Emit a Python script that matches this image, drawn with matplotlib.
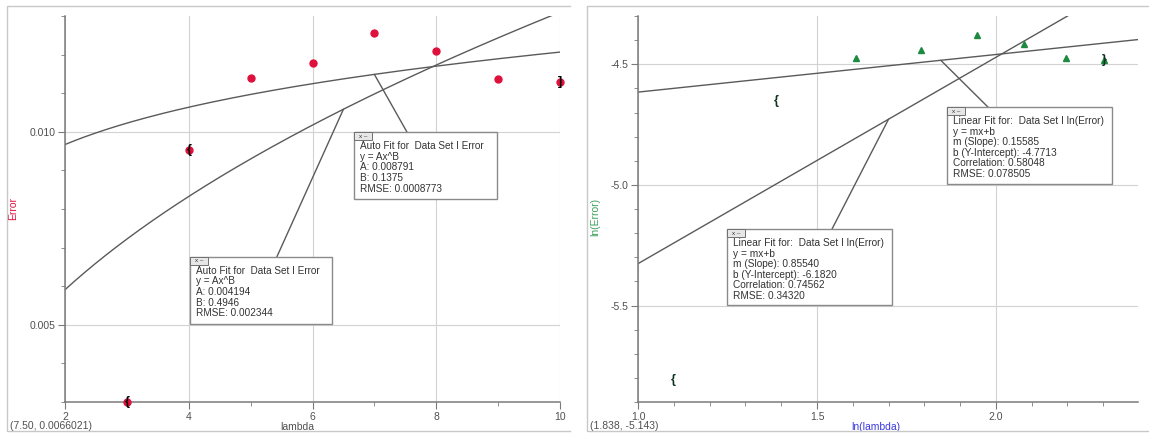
import numpy as np
import matplotlib
matplotlib.use("Agg")
import matplotlib.pyplot as plt
from matplotlib.patches import Rectangle
from matplotlib.lines import Line2D
from matplotlib.ticker import MultipleLocator, FormatStrFormatter

plt.rcParams["font.family"] = ["Liberation Sans", "DejaVu Sans"]
plt.rcParams["axes.unicode_minus"] = False

# ---- values ----
lam = [3, 4, 5, 6, 7, 8, 9, 10]
err = [0.00300, 0.00953, 0.01139, 0.01178, 0.01256, 0.01210, 0.01138, 0.01130]
ln_lam = [1.099, 1.386, 1.609, 1.792, 1.946, 2.079, 2.197, 2.303]
ln_err = [-5.809, -4.653, -4.475, -4.441, -4.377, -4.415, -4.476, -4.483]

# power fits  y = A x^B  (left panel)
fit1 = {"A": 0.008791, "B": 0.1375, "RMSE": 0.0008773}
fit2 = {"A": 0.004194, "B": 0.4946, "RMSE": 0.002344}
# linear fits  y = mx+b  (right panel)
lin1 = {"m": 0.15585, "b": -4.7713, "r": 0.58048, "RMSE": 0.078505}
lin2 = {"m": 0.85540, "b": -6.1820, "r": 0.74562, "RMSE": 0.34320}

left_xticks = [2, 4, 6, 8, 10]
left_yticks = [0.005, 0.010]
right_xticks = [1.0, 1.5, 2.0]
right_yticks = [-5.5, -5.0, -4.5]

RED = "#e0103c"
GREEN = "#1e8a40"
LINE = "#5a5a5a"
GRID = "#d2d2d2"
TXT = "#505050"


def style_axes(ax):
    for s in ("top", "right"):
        ax.spines[s].set_visible(False)
    for s in ("left", "bottom"):
        ax.spines[s].set_color("#7a7a7a"); ax.spines[s].set_linewidth(1.1)
    ax.tick_params(which="both", direction="out", colors="#7a7a7a", labelcolor=TXT,
                   labelsize=7.5, pad=2)
    ax.tick_params(which="major", length=5)
    ax.tick_params(which="minor", length=3)
    ax.grid(which="major", color=GRID, lw=0.8)
    ax.set_axisbelow(True)


def fit_box(ax, x0, y0, w, h, lines, start, target, fs=7.2):
    """annotation box like the Logger Pro 'fit' panel, with leader line to the curve"""
    ax.annotate("", xy=target, xycoords="data", xytext=start, textcoords="axes fraction",
                arrowprops=dict(arrowstyle="-", color=LINE, lw=1.0, shrinkA=0, shrinkB=0))
    ax.add_patch(Rectangle((x0, y0), w, h, transform=ax.transAxes, facecolor="white",
                           edgecolor="#8a8a8a", lw=1.0, zorder=5, clip_on=False))
    pw, ph = ax.bbox.width, ax.bbox.height
    ax.add_patch(Rectangle((x0, y0 + h - 8 / ph), 18 / pw, 8 / ph, transform=ax.transAxes,
                           facecolor="#e6e6e6", edgecolor="#707070", lw=0.7, zorder=6,
                           clip_on=False))
    ax.text(x0 + 9 / pw, y0 + h - 4 / ph, "x –", transform=ax.transAxes, fontsize=4.5,
            ha="center", va="center", color="#333", zorder=7)
    for i, s in enumerate(lines):
        ax.annotate(s, xy=(x0, y0 + h), xycoords="axes fraction",
                    xytext=(6, -14 - i * 10.6), textcoords="offset pixels",
                    fontsize=fs, va="center", ha="left", color="#333", zorder=7)


fig = plt.figure(figsize=(11.49, 4.38), dpi=100)
axL = fig.add_axes([65 / 1149, 36 / 438, 495 / 1149, 386 / 438])
axR = fig.add_axes([638 / 1149, 36 / 438, 500 / 1149, 386 / 438])

# ---- left: Error vs lambda ----
style_axes(axL)
axL.set_xlim(2, 10); axL.set_ylim(0.003, 0.013)
axL.set_xticks(left_xticks); axL.set_yticks(left_yticks)
axL.xaxis.set_minor_locator(MultipleLocator(1))
axL.yaxis.set_minor_locator(MultipleLocator(0.001))
axL.yaxis.set_major_formatter(FormatStrFormatter("%.3f"))
xs = np.linspace(2, 10, 200)
axL.plot(xs, fit1["A"] * xs ** fit1["B"], color=LINE, lw=1.0)
axL.plot(xs, fit2["A"] * xs ** fit2["B"], color=LINE, lw=1.0)
axL.plot(lam, err, "o", color=RED, ms=5, mec=RED, clip_on=False, zorder=4)
for i, b in [(0, "{"), (1, "{"), (7, "]")]:
    axL.text(lam[i], err[i], b, ha="center", va="center", fontsize=9, fontweight="bold",
             color="k", zorder=5, clip_on=False)
axL.set_xlabel("lambda", fontsize=7.5, color=TXT)
axL.xaxis.set_label_coords(0.469, -0.052)
axL.set_ylabel("Error", fontsize=7.5, color=RED)
axL.yaxis.set_label_coords(-0.095, 0.5)

fit_box(axL, 0.584, 0.526, 0.289, 0.173,
        ["Auto Fit for  Data Set I Error", "y = Ax^B", f"A: {fit1['A']}",
         f"B: {fit1['B']}", f"RMSE: {fit1['RMSE']}"],
        (0.691, 0.699), (7.0, fit1["A"] * 7.0 ** fit1["B"]))
fit_box(axL, 0.2525, 0.202, 0.287, 0.174,
        ["Auto Fit for  Data Set I Error", "y = Ax^B", f"A: {fit2['A']}",
         f"B: {fit2['B']}", f"RMSE: {fit2['RMSE']}"],
        (0.428, 0.376), (6.5, fit2["A"] * 6.5 ** fit2["B"]))
fig.text(10 / 1149, 1 - 426 / 438, "(7.50, 0.0066021)", fontsize=7.5, color=TXT, va="center")

# ---- right: ln(Error) vs ln(lambda) ----
style_axes(axR)
axR.set_xlim(1.0, 2.397); axR.set_ylim(-5.9, -4.3)
axR.set_xticks(right_xticks); axR.set_yticks(right_yticks)
axR.xaxis.set_minor_locator(MultipleLocator(0.1))
axR.yaxis.set_minor_locator(MultipleLocator(0.1))
axR.xaxis.set_major_formatter(FormatStrFormatter("%.1f"))
axR.yaxis.set_major_formatter(FormatStrFormatter("%.1f"))
xr = np.array([1.0, 2.397])
axR.plot(xr, lin1["m"] * xr + lin1["b"], color=LINE, lw=1.0)
axR.plot(xr, lin2["m"] * xr + lin2["b"], color=LINE, lw=1.0)
axR.plot(ln_lam[2:], ln_err[2:], "^", color=GREEN, ms=5, mec=GREEN, zorder=4)
for i, b in [(0, "{"), (1, "{"), (7, "}")]:
    axR.text(ln_lam[i], ln_err[i], b, ha="center", va="center", fontsize=9,
             fontweight="bold", color="#0d3320", zorder=5)
axR.set_xlabel("ln(lambda)", fontsize=7.5, color="#3a3ae0")
axR.xaxis.set_label_coords(0.476, -0.052)
axR.set_ylabel("ln(Error)", fontsize=7.5, color="#3aa05a")
axR.yaxis.set_label_coords(-0.076, 0.48)

fit_box(axR, 0.618, 0.565, 0.330, 0.199,
        ["Linear Fit for:  Data Set I ln(Error)", "y = mx+b", f"m (Slope): {lin1['m']:.5f}",
         f"b (Y-Intercept): {lin1['b']}", f"Correlation: {lin1['r']:.5f}",
         f"RMSE: {lin1['RMSE']}"],
        (0.70, 0.764), (1.846, lin1["m"] * 1.846 + lin1["b"]), fs=7.3)
fit_box(axR, 0.178, 0.251, 0.330, 0.197,
        ["Linear Fit for:  Data Set I ln(Error)", "y = mx+b", f"m (Slope): {lin2['m']:.5f}",
         f"b (Y-Intercept): {lin2['b']:.4f}", f"Correlation: {lin2['r']:.5f}",
         f"RMSE: {lin2['RMSE']:.5f}"],
        (0.388, 0.448), (1.70, lin2["m"] * 1.70 + lin2["b"]), fs=7.3)
fig.text(590 / 1149, 1 - 426 / 438, "(1.838, -5.143)", fontsize=7.5, color=TXT, va="center")

# light panel frames
for x0, x1 in [(7, 570), (587, 1149)]:
    xs_f = [x1 / 1149, x0 / 1149, x0 / 1149, x1 / 1149]
    ys_f = [1 - 6 / 438, 1 - 6 / 438, 1 - 431 / 438, 1 - 431 / 438]
    fig.add_artist(Line2D(xs_f, ys_f, transform=fig.transFigure, color="#c8c8c8", lw=1.0))

fig.savefig("out.png", dpi=100)
